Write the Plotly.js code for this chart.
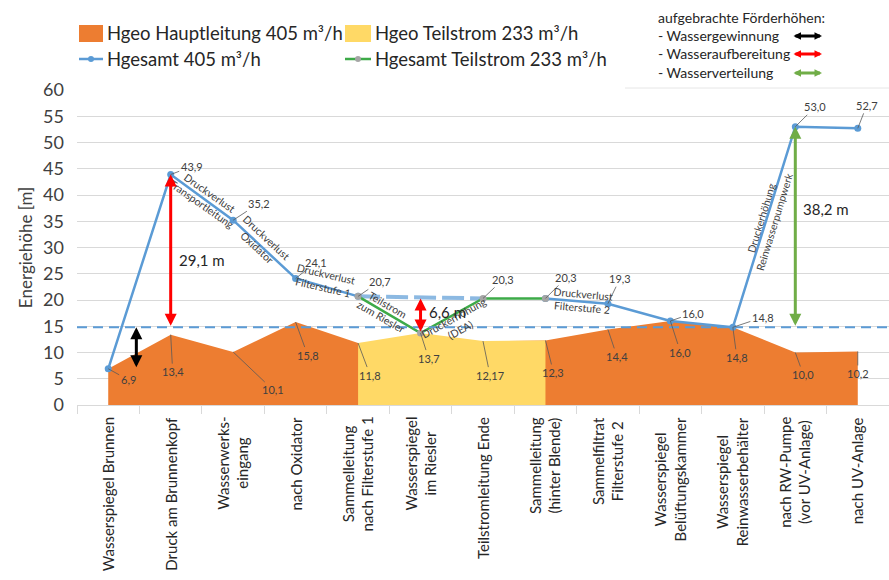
<!DOCTYPE html>
<html><head><meta charset="utf-8">
<script src="https://cdn.plot.ly/plotly-3.0.1.min.js"></script>
<style>html,body{margin:0;padding:0;background:#fff}#chart{width:889px;height:580px}</style>
</head><body><div id="chart"></div>
<script>
// ---------- data ----------
const categories = [
  'Wasserspiegel Brunnen', 'Druck am Brunnenkopf', 'Wasserwerks-<br>eingang', 'nach Oxidator',
  'Sammelleitung<br>nach Filterstufe 1', 'Wasserspiegel<br>im Riesler', 'Teilstromleitung Ende',
  'Sammelleitung<br>(hinter Blende)', 'Sammelfiltrat<br>Filterstufe 2', 'Wasserspiegel<br>Belüftungskammer',
  'Wasserspiegel<br>Reinwasserbehälter', 'nach RW-Pumpe<br>(vor UV-Anlage)', 'nach UV-Anlage'
];
const hgeoHaupt    = [6.9, 13.4, 10.1, 15.8, 11.8, null, null, 12.3, 14.4, 16.0, 14.8, 10.0, 10.2];
const hgeoTeil     = [null, null, null, null, 11.8, 13.7, 12.17, 12.3, null, null, null, null, null];
const hgesamtHaupt = [6.9, 43.9, 35.2, 24.1, 20.7, null, null, 20.3, 19.3, 16.0, 14.8, 53.0, 52.7];
const hgesamtTeil  = [null, null, null, null, 20.7, 13.7, 20.3, 20.3, null, null, null, null, null];
const seriesNames = ['Hgeo Hauptleitung 405 m³/h', 'Hgeo Teilstrom 233 m³/h', 'Hgesamt 405 m³/h', 'Hgesamt Teilstrom 233 m³/h'];
const segmentNotes = ['Druckverlust<br>Transportleitung', 'Druckverlust<br>Oxidator', 'Druckverlust<br>Filterstufe 1',
  'Teilstrom<br>zum Riesler', 'Druckerhöhung<br>(DEA)', 'Druckverlust<br>Filterstufe 2', 'Druckerhöhung<br>Reinwasserpumpwerk'];
const boxTitle = 'aufgebrachte Förderhöhen:';
const boxItems = ['- Wassergewinnung', '- Wasseraufbereitung', '- Wasserverteilung'];
const yTitle = 'Energiehöhe [m]';

// ---------- styling / layout helpers ----------
const FONT = 'Lato, "Open Sans", sans-serif';
const ORANGE = '#ED7D31', YELLOW = '#FFD966', BLUE = '#5B9BD5', GREEN = '#3DAA48', GREY = '#A5A5A5';
const ARROW_GREEN = '#70AD47', RED = '#FF0000';
const L = 77, R = 889, T = 90, B = 405;
const px = x => (x - L) / (R - L);
const py = y => (B - y) / (B - T);
const fmt = v => (Math.round(v * 10) / 10 === v ? v.toFixed(1) : v.toFixed(2)).replace('.', ',');
const fmt1 = v => v.toFixed(1).replace('.', ',');
const refLevel = hgesamtHaupt[10];

const traces = [
  {x: categories, y: hgeoHaupt, name: seriesNames[0], type: 'scatter', mode: 'lines', fill: 'tozeroy',
   fillcolor: ORANGE, line: {width: 0, color: ORANGE}, connectgaps: false, hoverinfo: 'skip'},
  {x: categories, y: hgeoTeil, name: seriesNames[1], type: 'scatter', mode: 'lines', fill: 'tozeroy',
   fillcolor: YELLOW, line: {width: 0, color: YELLOW}, connectgaps: false, hoverinfo: 'skip'},
  {x: [categories[4], categories[6]], y: [hgesamtTeil[4], hgesamtTeil[6]], name: 'Hgesamt 405 (Umgehung)', type: 'scatter', mode: 'lines',
   line: {color: 'rgba(91,155,213,0.7)', width: 4, dash: '22px,6px'}, showlegend: false},
  {x: categories, y: hgesamtHaupt, name: seriesNames[2], type: 'scatter', mode: 'lines+markers',
   line: {color: BLUE, width: 2.5}, marker: {color: BLUE, size: 7}},
  {x: categories, y: hgesamtTeil, name: seriesNames[3], type: 'scatter', mode: 'lines+markers',
   line: {color: GREEN, width: 2.5}, marker: {color: GREY, size: 7}}
];

const annotations = [];
const shapes = [];

// value labels with leader lines
const lineLabelOff = {1:[21,-8], 2:[26,-17], 3:[20,-16], 7:[21,-21], 8:[12,-25], 9:[23,-8], 10:[30,-10], 11:[20,-20], 12:[9,-23]};
const teilLabelOff = {4:[22,-15], 6:[20,-19]};
const leader = (xi, yv, txt, o) => annotations.push({x: xi, y: yv, xref: 'x', yref: 'y', text: txt, showarrow: true,
  arrowhead: 0, arrowwidth: 0.8, arrowcolor: '#595959', ax: o[0], ay: o[1], standoff: 0,
  font: {family: FONT, size: 11, color: '#404040'}});
hgesamtHaupt.forEach((v, i) => { if (v !== null && lineLabelOff[i]) leader(i, v, fmt1(v), lineLabelOff[i]); });
hgesamtTeil.forEach((v, i) => { if (v !== null && teilLabelOff[i]) leader(i, v, fmt1(v), teilLabelOff[i]); });
const geoLabelOff = {0:[20,11], 1:[2,37], 2:[40,38], 3:[12,33], 7:[8,32], 8:[9,27], 9:[10,31], 10:[4,30], 11:[8,22], 12:[0,22]};
const geoTeilLabelOff = {4:[12,32], 5:[8,25], 6:[7,34]};
hgeoHaupt.forEach((v, i) => { if (v !== null && geoLabelOff[i]) leader(i, v, fmt(v), geoLabelOff[i]); });
hgeoTeil.forEach((v, i) => { if (v !== null && geoTeilLabelOff[i]) leader(i, v, fmt(v), geoTeilLabelOff[i]); });

// rotated notes along segments (x index, y value, angle)
const notePos = [[1.567, 39.3, 35], [2.46, 30.9, 43], [3.47, 23.7, 13], [4.42, 18.0, 30], [5.585, 15.5, -29], [7.585, 19.9, 5], [10.56, 35.3, -73]];
segmentNotes.forEach((t, k) => annotations.push({x: notePos[k][0], y: notePos[k][1], xref: 'x', yref: 'y', text: t,
  showarrow: false, textangle: notePos[k][2], font: {family: FONT, size: 10.5, color: '#404040'}}));

// height arrows
const arrow = (xi, y0, y1, col) => annotations.push({x: xi, y: y1, ax: xi, ay: y0, xref: 'x', yref: 'y', axref: 'x', ayref: 'y',
  text: '', showarrow: true, arrowhead: 2, arrowside: 'end+start', arrowsize: 0.8, arrowwidth: 3, arrowcolor: col, standoff: 0, startstandoff: 0});
arrow(0.45, hgesamtHaupt[0], refLevel, '#000000');
arrow(1, refLevel, hgesamtHaupt[1], RED);
arrow(5, hgesamtTeil[5], hgesamtTeil[6], RED);
arrow(11, refLevel, hgesamtHaupt[11], ARROW_GREEN);
const dlabel = (xi, yv, txt) => annotations.push({x: xi, y: yv, xref: 'x', yref: 'y', text: txt, showarrow: false,
  xanchor: 'left', yanchor: 'middle', xshift: 6, font: {family: FONT, size: 15, color: '#262626'}});
dlabel(1, 27.7, fmt1(hgesamtHaupt[1] - refLevel) + ' m');
dlabel(5, 17.8, fmt1(hgesamtTeil[6] - hgesamtTeil[5]) + ' m');
dlabel(11, 37.4, fmt1(hgesamtHaupt[11] - refLevel) + ' m');

// reference dashed line
shapes.push({type: 'line', xref: 'paper', yref: 'y', x0: 0, x1: 1, y0: refLevel, y1: refLevel, layer: 'above',
  line: {color: BLUE, width: 2, dash: '10px,6px'}});

// category labels (rotated, centered lines)
categories.forEach((c, i) => annotations.push({x: i, y: py(415), xref: 'x', yref: 'paper', text: c, showarrow: false,
  textangle: -90, xanchor: 'center', yanchor: 'top', align: 'center',
  font: {family: FONT, size: 15, color: '#262626'}}));

// legend (manual)
const LF = {family: FONT, size: 18.5, color: '#262626'};
shapes.push({type: 'rect', xref: 'paper', yref: 'paper', x0: px(79), x1: px(103), y0: py(42), y1: py(25), fillcolor: ORANGE, line: {width: 0}});
shapes.push({type: 'rect', xref: 'paper', yref: 'paper', x0: px(345), x1: px(371), y0: py(42), y1: py(25), fillcolor: YELLOW, line: {width: 0}});
shapes.push({type: 'line', xref: 'paper', yref: 'paper', x0: px(79), x1: px(103), y0: py(59), y1: py(59), line: {color: BLUE, width: 2.5}});
shapes.push({type: 'circle', xref: 'paper', yref: 'paper', x0: px(88), x1: px(94), y0: py(62), y1: py(56), fillcolor: BLUE, line: {width: 0}});
shapes.push({type: 'line', xref: 'paper', yref: 'paper', x0: px(345), x1: px(371), y0: py(59), y1: py(59), line: {color: GREEN, width: 2.5}});
shapes.push({type: 'circle', xref: 'paper', yref: 'paper', x0: px(355), x1: px(361), y0: py(62), y1: py(56), fillcolor: GREY, line: {width: 0}});
[[105, 33], [373, 33], [105, 59], [373, 59]].forEach((p, k) => annotations.push({x: px(p[0]), y: py(p[1]), xref: 'paper', yref: 'paper',
  text: seriesNames[k], showarrow: false, xanchor: 'left', yanchor: 'middle', font: LF}));

// right box
const BF = {family: FONT, size: 14, color: '#262626'};
annotations.push({x: px(656), y: py(18), xref: 'paper', yref: 'paper', text: boxTitle, showarrow: false, xanchor: 'left', yanchor: 'middle', font: BF});
const boxCols = ['#000000', RED, ARROW_GREEN];
[36, 54, 73].forEach((yy, k) => {
  annotations.push({x: px(656), y: py(yy), xref: 'paper', yref: 'paper', text: boxItems[k], showarrow: false, xanchor: 'left', yanchor: 'middle', font: BF});
  annotations.push({x: px(822), y: py(yy), ax: -30, ay: 0, xref: 'paper', yref: 'paper', text: '', showarrow: true,
    arrowhead: 2, arrowside: 'end+start', arrowsize: 0.5, arrowwidth: 3, arrowcolor: boxCols[k], standoff: 0, startstandoff: 0});
});
shapes.push({type: 'line', xref: 'paper', yref: 'paper', x0: px(625), x1: px(889), y0: py(88), y1: py(88), line: {color: '#e6e6e6', width: 1}});

const layout = {
  width: 889, height: 580, paper_bgcolor: '#fff', plot_bgcolor: '#fff',
  margin: {l: L, r: 889 - R, t: T, b: 580 - B},
  showlegend: false,
  font: {family: FONT, color: '#404040'},
  xaxis: {type: 'category', categoryorder: 'array', categoryarray: categories, range: [-0.5, 12.5],
    showticklabels: false, showgrid: false, zeroline: false, showline: true, linecolor: '#d9d9d9', linewidth: 1,
    ticks: 'outside', tickson: 'boundaries', ticklen: 8, tickcolor: '#d9d9d9', fixedrange: true},
  yaxis: {range: [0, 60], dtick: 5, tick0: 0, showgrid: true, gridcolor: '#d9d9d9', gridwidth: 1, zeroline: false,
    showline: false, ticks: '', ticklabelstandoff: 12, tickfont: {family: FONT, size: 18, color: '#404040'},
    title: {text: yTitle, font: {family: FONT, size: 17, color: '#404040'}, standoff: 6}, fixedrange: true},
  annotations: annotations, shapes: shapes
};
Plotly.newPlot('chart', traces, layout, {displayModeBar: false, staticPlot: true});
</script></body></html>
